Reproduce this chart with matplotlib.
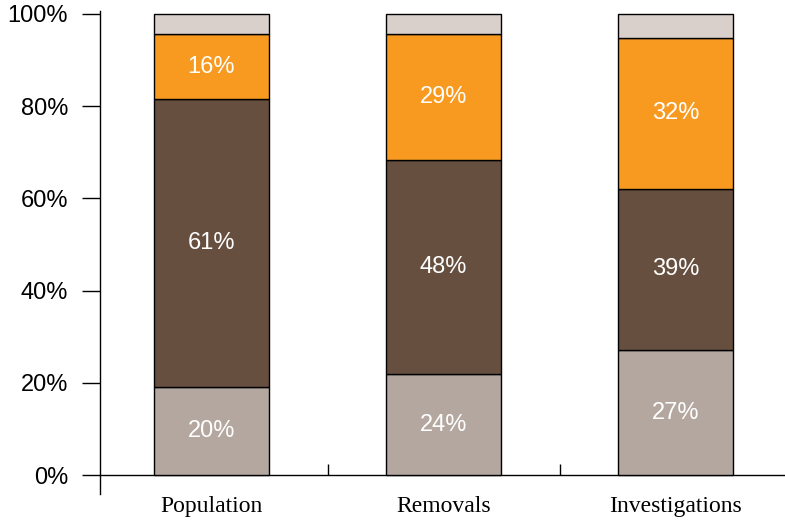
import numpy as np
import matplotlib.pyplot as plt
from matplotlib.ticker import FixedLocator, NullFormatter

categories = ["Population", "Removals", "Investigations"]
# segment heights as drawn (percent), bottom to top
seg_light = [19.1, 21.9, 27.1]
seg_brown = [62.4, 46.4, 35.0]
seg_orange = [14.1, 27.4, 32.7]
seg_top = [4.4, 4.3, 5.2]
# printed labels
lab_light = ["20%", "24%", "27%"]
lab_brown = ["61%", "48%", "39%"]
lab_orange = ["16%", "29%", "32%"]

colors = ["#b3a79f", "#674f3f", "#f89a20", "#d9d0cb"]

fig = plt.figure(figsize=(7.85, 5.22), dpi=100)
ax = fig.add_axes([0.1274, 0.0536, 0.8726, 0.925])

x = np.arange(len(categories))
bottom = np.zeros(len(categories))
series = [seg_light, seg_brown, seg_orange, seg_top]
labels = [lab_light, lab_brown, lab_orange, None]
for vals, col, labs in zip(series, colors, labels):
    vals = np.array(vals)
    ax.bar(x, vals, width=0.495, bottom=bottom, color=col,
           edgecolor="black", linewidth=1.0, zorder=3)
    if labs is not None:
        for xi, b, v, t in zip(x, bottom, vals, labs):
            ax.text(xi, b + v / 2, t, ha="center", va="center",
                    color="white", fontsize=17, family="Liberation Sans", zorder=4)
    bottom += vals

ax.set_xlim(-0.48, 2.47)
ax.set_ylim(-4.1, 100.6)

for s in ["top", "right"]:
    ax.spines[s].set_visible(False)
ax.spines["bottom"].set_position(("data", 0))
ax.spines["left"].set_linewidth(1.0)
ax.spines["bottom"].set_linewidth(1.0)

ax.set_yticks([0, 20, 40, 60, 80, 100])
ax.set_yticklabels(["0%", "20%", "40%", "60%", "80%", "100%"],
                   family="Liberation Sans", fontsize=17)
ax.tick_params(axis="y", direction="out", length=13, width=1.0, pad=10)

ax.xaxis.set_major_locator(FixedLocator([0.5, 1.5]))
ax.xaxis.set_major_formatter(NullFormatter())
ax.xaxis.set_minor_locator(FixedLocator(list(x)))
ax.set_xticklabels(categories, minor=True, family="Liberation Serif", fontsize=17)
ax.tick_params(axis="x", which="major", direction="in", length=8, width=1.0)
ax.tick_params(axis="x", which="minor", length=0, pad=15)

fig.savefig("out.png", dpi=100)
